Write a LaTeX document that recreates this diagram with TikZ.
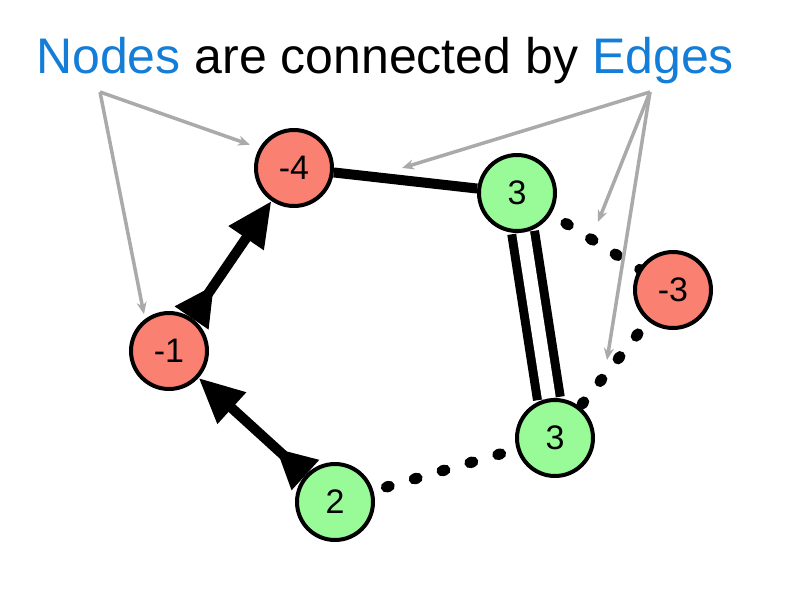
\documentclass[tikz,border=0pt]{standalone}
\usepackage{fontspec}
\setmainfont{Liberation Sans}
\usetikzlibrary{arrows.meta,backgrounds}
\definecolor{nodered}{HTML}{FA8072}
\definecolor{nodegreen}{HTML}{98FB98}
\definecolor{titleblue}{RGB}{20,125,215}
\definecolor{pointergray}{RGB}{170,170,170}
\begin{document}
\begin{tikzpicture}[x=1pt, y=-1pt,
    vertex/.style = {circle, draw=black, line width=4pt, minimum size=76pt, inner sep=0pt,
        font=\fontsize{34}{34}\selectfont},
    posvertex/.style = {vertex, fill=nodegreen},
    negvertex/.style = {vertex, fill=nodered},
    link/.style = {line width=10pt},
    dotlink/.style = {line width=11pt, line cap=round, dash pattern=on 3pt off 26pt},
    flow/.style = {link, {Triangle[reversed,length=40pt,width=38pt]}-{Triangle[length=45pt,width=40pt]}},
    pointer/.style = {pointergray, line width=3.5pt, -{Stealth[length=12pt,width=10pt]}}]
                \useasboundingbox (0, 0) rectangle (800, 600);
                \node [anchor=base west, inner sep=0pt, font=\fontsize{50}{60}\selectfont] (title) at (36, 73)
                    {\textcolor{titleblue}{Nodes} are connected by \textcolor{titleblue}{Edges}};
                \coordinate (nodesfrom) at (100, 92);
                \coordinate (edgesfrom) at (650, 92);

                \node [negvertex] (m4) at (294, 168) {-4};
                \node [posvertex] (p3a) at (517, 193) {3};
                \node [negvertex] (m3) at (673, 290) {-3};
                \node [negvertex] (m1) at (169, 351) {-1};
                \node [posvertex] (p3b) at (555, 438) {3};
                \node [posvertex] (p2) at (335, 502) {2};

                \begin{scope}[on background layer]
                    \draw [link] (m4) -- (p3a);
                    \draw [line width=9pt, double, double distance=14pt] (p3a) -- (p3b);
                    \draw [dotlink, dash phase=0.5pt] (p3a.center) -- (m3.center);
                    \draw [dotlink, dash phase=1.9pt] (m3.center) -- (p3b.center);
                    \draw [dotlink, dash phase=4.5pt] (p2.center) -- (p3b.center);
                    \draw [flow] (m1) -- (m4);
                    \draw [flow] (p2) -- (m1);
                \end{scope}

                \coordinate (e1) at (402, 168);
                \coordinate (e2) at (598, 222);
                \coordinate (e3) at (607, 360);
                \draw [pointer, shorten >=10pt] (nodesfrom) -- (m4.150);
                \draw [pointer, shorten >=5pt] (nodesfrom) -- (m1.127);
                \draw [pointer] (edgesfrom) -- (e1);
                \draw [pointer] (edgesfrom) -- (e2);
                \draw [pointer] (edgesfrom) -- (e3);
\end{tikzpicture}
\end{document}
